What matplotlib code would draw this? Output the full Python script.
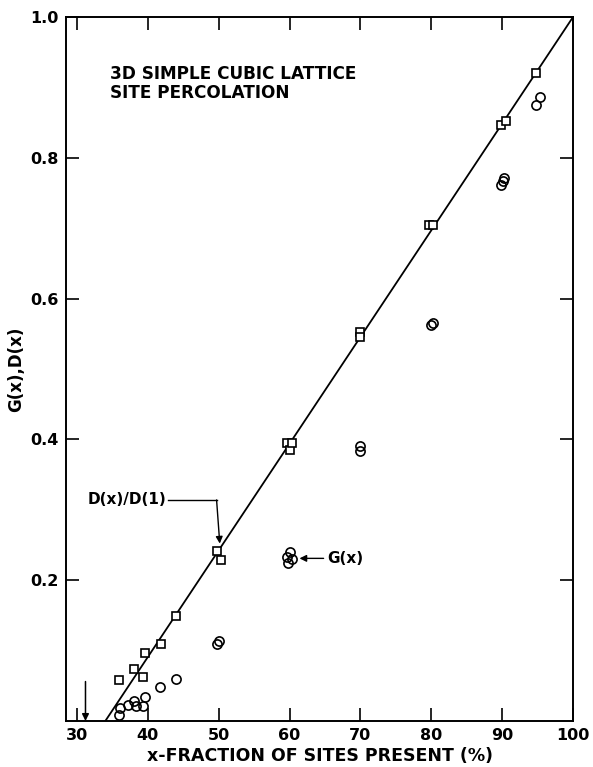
import matplotlib
matplotlib.use('Agg')
import matplotlib.pyplot as plt

plt.rcParams['font.family'] = ['DejaVu Sans']

# D(x)/D(1) - squares
d_x = [35.9, 38.0, 39.3, 39.6, 41.8, 44.0, 49.75, 50.35,
       59.6, 60.0, 60.4, 70.0, 70.0, 79.7, 80.3, 89.9, 90.5, 94.8]
d_y = [0.058, 0.074, 0.063, 0.097, 0.110, 0.149, 0.241, 0.229,
       0.395, 0.385, 0.395, 0.553, 0.545, 0.705, 0.705, 0.847, 0.853, 0.920]

# G(x) - circles
g_x = [35.9, 36.0, 37.2, 38.0, 38.3, 39.3, 39.6, 41.7, 44.0, 49.7, 50.1,
       59.6, 60.1, 60.3, 59.8, 70.0, 70.0, 79.9, 80.2, 89.9, 90.1, 90.2,
       94.8, 95.3]
g_y = [0.009, 0.019, 0.022, 0.029, 0.021, 0.021, 0.034, 0.048, 0.060, 0.109, 0.114,
       0.233, 0.240, 0.230, 0.225, 0.390, 0.383, 0.562, 0.565, 0.762, 0.767, 0.772,
       0.875, 0.886]

# straight line through the squares
line_x = [34, 100]
line_y = [0.0, 1.0]

x_ticks = [30, 40, 50, 60, 70, 80, 90, 100]
y_ticks = [0.2, 0.4, 0.6, 0.8, 1.0]
y_tick_labels = ['0.2', '0.4', '0.6', '0.8', '1.0']

p_c = 31.2  # percolation threshold arrow

fig = plt.figure(figsize=(5.93, 7.67), dpi=100)
ax = fig.add_axes([0.1113, 0.0600, 0.8550, 0.9178])

ax.plot(line_x, line_y, color='black', lw=1.3)
ax.plot(d_x, d_y, 's', ms=6.4, mfc='white', mec='black', mew=1.2)
ax.plot(g_x, g_y, 'o', ms=6.6, mfc='none', mec='black', mew=1.2)

ax.set_xlim(28.45, 100)
ax.set_ylim(0, 1.0)
ax.set_xticks(x_ticks)
ax.set_yticks(y_ticks)
ax.set_yticklabels(y_tick_labels)
ax.tick_params(direction='in', length=9.5, width=1.2, top=True, right=True,
               labelsize=11.5, pad=5)
for lab in ax.get_xticklabels() + ax.get_yticklabels():
    lab.set_fontweight('bold')
for sp in ax.spines.values():
    sp.set_linewidth(1.4)

ax.set_xlabel('x-FRACTION OF SITES PRESENT (%)', fontsize=12.5, fontweight='bold', labelpad=3)
ax.set_ylabel('G(x),D(x)', fontsize=12, fontweight='bold', labelpad=4)

ax.text(0.087, 0.906, '3D SIMPLE CUBIC LATTICE\nSITE PERCOLATION', transform=ax.transAxes,
        fontsize=12.2, fontweight='bold', va='center', ha='left', linespacing=1.05)

# threshold arrow
ax.annotate('', xy=(p_c, 0.0), xytext=(p_c, 0.056),
            arrowprops=dict(arrowstyle='-|>', color='black', lw=1.1, mutation_scale=10,
                            shrinkA=0, shrinkB=0))

# label for D(x)/D(1)
ax.text(42.6, 0.314, 'D(x)/D(1)', fontsize=11, fontweight='bold', ha='right', va='center')
ax.plot([42.8, 49.7], [0.314, 0.314], color='black', lw=1.0)
ax.annotate('', xy=(50.15, 0.252), xytext=(49.7, 0.314),
            arrowprops=dict(arrowstyle='-|>', color='black', lw=1.0, mutation_scale=10,
                            shrinkA=0, shrinkB=0))

# label for G(x)
ax.annotate('', xy=(61.4, 0.231), xytext=(64.8, 0.231),
            arrowprops=dict(arrowstyle='-|>', color='black', lw=1.0, mutation_scale=10,
                            shrinkA=0, shrinkB=0))
ax.text(65.3, 0.231, 'G(x)', fontsize=11, fontweight='bold', ha='left', va='center')

fig.savefig('out.png', dpi=100)
